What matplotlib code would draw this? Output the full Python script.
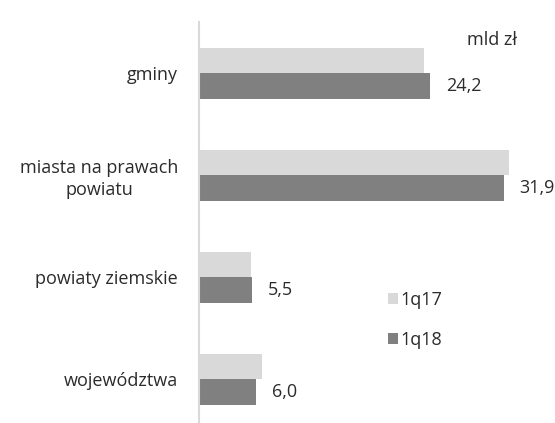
import matplotlib
matplotlib.use("Agg")
import matplotlib.pyplot as plt
import numpy as np

# ==================== DATA ====================
categories = ["gminy", "miasta na prawach\npowiatu", "powiaty ziemskie", "województwa"]
values_1q17 = [23.6, 32.5, 5.4, 6.6]
values_1q18 = [24.2, 31.9, 5.5, 6.0]
series_names = ["1q17", "1q18"]
unit_label = "mld zł"

# ==================== STYLE ====================
W, H, DPI = 555, 423, 100
LIGHT = "#d9d9d9"
DARK = "#808080"
TEXT = "#2b2b2b"
plt.rcParams["font.family"] = ["Open Sans", "DejaVu Sans"]
plt.rcParams["font.size"] = 13


def draw():
    fig = plt.figure(figsize=(W / DPI, H / DPI), dpi=DPI)
    fig.patch.set_facecolor("white")

    # axes spans from the value axis line to the right edge
    left_px, top_px = 199, 22
    ax = fig.add_axes([left_px / W, 0, (W - left_px) / W, 1 - top_px / H])

    y = np.arange(len(categories))
    bar_h = 0.25
    b17 = ax.barh(y - bar_h / 2, values_1q17, height=bar_h, color=LIGHT, label=series_names[0])
    b18 = ax.barh(y + bar_h / 2, values_1q18, height=bar_h, color=DARK, label=series_names[1])

    ax.set_xlim(0, (W - left_px) / 9.55)
    ax.set_ylim(3.43, -0.5)

    for v, yy in zip(values_1q18, y + bar_h / 2):
        ax.annotate(f"{v:.1f}".replace(".", ","), xy=(v, yy), xytext=(16, 0),
                    textcoords="offset pixels", va="center", ha="left", color=TEXT)

    ax.set_yticks(y)
    ax.set_yticklabels(categories, multialignment="center", color=TEXT, linespacing=1.3)
    ax.tick_params(axis="y", length=0, pad=15)
    ax.set_xticks([])

    for side in ["top", "right", "bottom"]:
        ax.spines[side].set_visible(False)
    ax.spines["left"].set_color(LIGHT)
    ax.spines["left"].set_linewidth(1.5)

    fig.text(467 / W, 1 - 40 / H, unit_label, ha="left", va="center", color=TEXT)

    ax.legend(handles=[b17, b18], frameon=False, loc="upper left",
              bbox_to_anchor=(372 / W, 1 - 275 / H), bbox_transform=fig.transFigure,
              handlelength=0.55, handleheight=0.55, handletextpad=0.15,
              labelspacing=1.2, labelcolor=TEXT)

    fig.savefig("out.png", dpi=DPI)


if __name__ == "__main__":
    draw()
